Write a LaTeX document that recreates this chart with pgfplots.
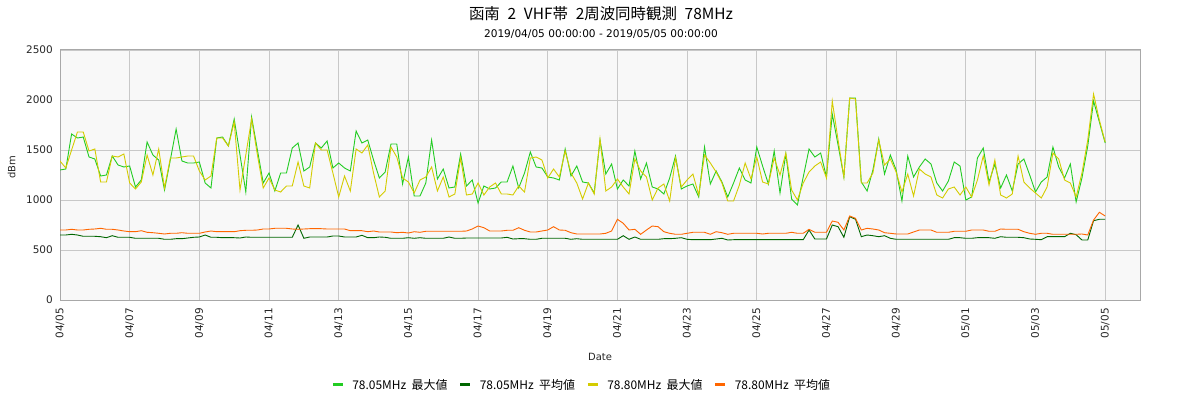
\documentclass[border=0pt]{standalone}
\usepackage{fontspec}
\setmainfont{DejaVu Sans}
\newfontfamily\jp{Noto Sans CJK JP}
\usepackage{pgfplots}
\usepackage{pgfplotstable}
\pgfplotsset{compat=1.18}
\definecolor{cGmax}{HTML}{22CC22}
\definecolor{cGavg}{HTML}{006600}
\definecolor{cYmax}{HTML}{D4CC00}
\definecolor{cOavg}{HTML}{FF6600}
\definecolor{bgc}{HTML}{F8F8F8}
\definecolor{gridc}{HTML}{C8C8C8}
\definecolor{framec}{HTML}{A8A8A8}
\newcommand{\lent}[2]{\hspace{6bp}\makebox[93bp][l]{#1\hspace{0.45em}#2}}
\pgfplotstableread{
k G D Y O
0 1300 650 1390 700
1 1310 650 1320 700
2 1660 657 1500 707
3 1620 650 1680 700
4 1630 637 1680 700
5 1430 637 1490 707
6 1410 637 1510 710
7 1240 633 1180 717
8 1250 623 1180 707
9 1440 643 1440 707
10 1350 627 1430 700
11 1330 627 1460 690
12 1340 627 1170 683
13 1130 617 1110 683
14 1200 617 1180 693
15 1580 617 1450 677
16 1450 617 1250 673
17 1400 617 1510 667
18 1100 607 1120 660
19 1400 607 1420 667
20 1710 613 1420 667
21 1390 613 1430 673
22 1370 620 1440 667
23 1370 627 1440 667
24 1380 630 1290 667
25 1170 650 1200 680
26 1120 627 1240 690
27 1620 627 1620 683
28 1630 623 1620 683
29 1540 623 1540 683
30 1810 623 1780 683
31 1450 620 1100 693
32 1080 630 1450 697
33 1830 627 1810 697
34 1500 627 1450 700
35 1170 627 1120 710
36 1270 627 1220 710
37 1090 627 1100 717
38 1270 627 1080 717
39 1270 627 1140 717
40 1520 627 1140 710
41 1570 750 1380 707
42 1290 617 1140 710
43 1330 630 1120 713
44 1570 630 1570 713
45 1520 630 1500 713
46 1590 630 1500 710
47 1320 640 1270 710
48 1370 640 1030 710
49 1320 630 1240 710
50 1290 630 1090 693
51 1690 630 1510 693
52 1570 647 1470 693
53 1600 623 1550 683
54 1400 623 1270 690
55 1220 630 1030 680
56 1280 627 1090 680
57 1560 617 1530 680
58 1560 617 1430 673
59 1160 617 1220 677
60 1430 623 1180 670
61 1040 617 1070 683
62 1040 623 1200 677
63 1170 617 1230 687
64 1600 617 1330 687
65 1210 617 1090 687
66 1310 617 1230 687
67 1120 630 1030 687
68 1130 617 1060 687
69 1460 617 1420 687
70 1140 620 1050 690
71 1200 620 1060 710
72 970 620 1170 740
73 1140 620 1050 723
74 1110 620 1130 690
75 1120 620 1170 690
76 1180 620 1060 690
77 1180 627 1060 697
78 1340 610 1050 697
79 1120 613 1140 723
80 1270 613 1080 697
81 1480 607 1420 680
82 1330 607 1430 680
83 1320 617 1400 690
84 1230 617 1220 700
85 1220 617 1310 733
86 1200 617 1230 700
87 1510 617 1490 697
88 1240 607 1270 673
89 1340 613 1170 660
90 1180 607 1010 660
91 1170 607 1170 660
92 1070 607 1060 660
93 1600 607 1610 660
94 1260 607 1090 667
95 1360 607 1130 690
96 1110 607 1210 807
97 1200 643 1130 767
98 1140 607 1060 700
99 1490 630 1410 707
100 1210 607 1290 657
101 1370 607 1230 700
102 1130 607 1000 740
103 1110 607 1120 733
104 1060 613 1160 683
105 1220 613 990 667
106 1440 617 1420 657
107 1110 623 1130 657
108 1140 607 1200 667
109 1160 603 1260 677
110 1030 603 1050 677
111 1530 603 1450 677
112 1160 603 1370 657
113 1290 610 1280 683
114 1180 617 1170 673
115 1030 600 990 657
116 1170 603 990 667
117 1320 603 1150 667
118 1200 603 1370 667
119 1170 603 1210 667
120 1530 603 1430 667
121 1340 603 1180 660
122 1160 603 1160 667
123 1490 603 1420 667
124 1070 603 1250 667
125 1460 603 1470 667
126 1010 603 1100 677
127 950 603 1000 667
128 1230 603 1170 667
129 1510 700 1280 707
130 1430 610 1340 677
131 1470 610 1380 677
132 1230 610 1220 677
133 1860 750 1990 790
134 1550 733 1600 777
135 1230 627 1230 700
136 2020 833 2020 840
137 2020 807 2010 817
138 1180 633 1170 700
139 1090 650 1170 717
140 1300 643 1270 710
141 1610 633 1600 700
142 1260 643 1350 673
143 1450 617 1410 667
144 1300 607 1280 660
145 990 607 1080 660
146 1440 607 1260 660
147 1230 607 1040 680
148 1330 607 1310 700
149 1410 607 1260 700
150 1360 607 1230 700
151 1170 607 1050 677
152 1090 607 1020 677
153 1190 607 1110 677
154 1380 623 1130 687
155 1340 623 1050 687
156 1000 617 1130 687
157 1030 617 1030 700
158 1420 623 1200 700
159 1520 623 1440 700
160 1180 623 1150 687
161 1360 617 1400 687
162 1120 633 1050 710
163 1250 627 1020 707
164 1090 627 1060 707
165 1360 627 1440 707
166 1410 623 1180 683
167 1250 610 1120 667
168 1080 607 1070 657
169 1180 603 1020 667
170 1230 633 1130 667
171 1530 633 1470 657
172 1330 633 1410 657
173 1220 633 1200 657
174 1360 667 1170 657
175 980 653 1030 657
176 1220 600 1270 660
177 1540 600 1600 650
178 1990 793 2060 800
179 1780 807 1800 877
180 1570 807 1580 840
}\data
\begin{document}
\begin{tikzpicture}
\path[use as bounding box] (0,0) rectangle (1200bp,400bp);
\node[font=\jp\fontsize{15.5}{18}\selectfont] at (601bp,386.5bp) {函南\hspace{0.5em}2\hspace{0.5em}VHF帯\hspace{0.5em}2周波同時観測\hspace{0.5em}78MHz};
\node[font=\fontsize{10.6}{12}\selectfont] at (601bp,365.5bp) {2019/04/05 00:00:00 - 2019/05/05 00:00:00};
\begin{axis}[
  at={(60bp,100bp)}, anchor=south west, scale only axis,
  width=1080bp, height=250bp,
  xmin=0, xmax=186, ymin=0, ymax=2500,
  xtick={0,12,...,180},
  xticklabels={04/05,04/07,04/09,04/11,04/13,04/15,04/17,04/19,04/21,04/23,04/25,04/27,04/29,05/01,05/03,05/05},
  ytick={0,500,...,2500},
  major tick length=0pt,
  grid=major, major grid style={gridc, line width=0.8bp},
  axis line style={framec, line width=1bp},
  axis background/.style={fill=bgc},
  ticklabel style={font=\fontsize{10.5}{12}\selectfont, text=black!85},
  /pgf/number format/assume math mode=true,
  /pgf/number format/1000 sep={},
  xticklabel style={rotate=90, anchor=east, inner xsep=8bp},
  yticklabel style={anchor=east, inner xsep=7bp},
  xlabel={Date},
  xlabel style={at={(axis description cs:0.5,-0.228)}, anchor=center, font=\fontsize{10}{12}\selectfont, text=black!85},
  ylabel={dBm},
  ylabel style={at={(axis description cs:-0.0447,0.53)}, anchor=center, font=\fontsize{10}{12}\selectfont, text=black!85},
  legend style={at={(axis description cs:0.482,-0.34)}, anchor=center, draw=none, fill=none,
    font=\jp\fontsize{12}{14}\selectfont,
    /tikz/every even column/.append style={column sep=11.5bp}},
  legend columns=4,
  legend image code/.code={\draw[#1, line width=3bp] (0bp,0bp) -- (10bp,0bp);},
  every axis plot/.append style={line width=0.9bp, mark=none},
]
\addplot[cGmax] table[x=k, y=G] {\data};
\addlegendentry{\lent{78.05MHz}{最大値}}
\addplot[cGavg] table[x=k, y=D] {\data};
\addlegendentry{\lent{78.05MHz}{平均値}}
\addplot[cYmax] table[x=k, y=Y] {\data};
\addlegendentry{\lent{78.80MHz}{最大値}}
\addplot[cOavg] table[x=k, y=O] {\data};
\addlegendentry{\lent{78.80MHz}{平均値}}
\end{axis}
\end{tikzpicture}
\end{document}
